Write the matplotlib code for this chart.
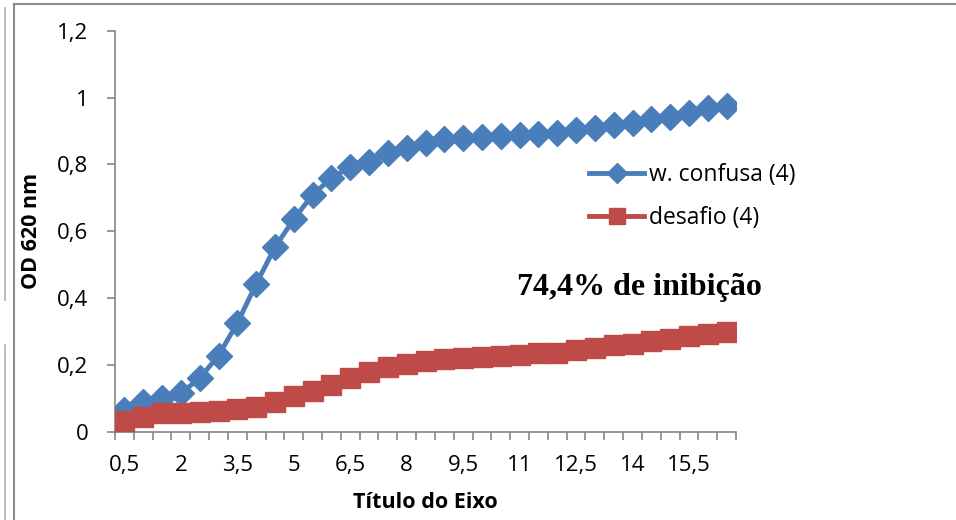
import matplotlib
matplotlib.use("Agg")
import matplotlib.pyplot as plt
from matplotlib.lines import Line2D
import numpy as np

# Categories (time points) and optical density readings
categories = [0.5, 1, 1.5, 2, 2.5, 3, 3.5, 4, 4.5, 5, 5.5, 6, 6.5, 7, 7.5, 8,
              8.5, 9, 9.5, 10, 10.5, 11, 11.5, 12, 12.5, 13, 13.5, 14, 14.5,
              15, 15.5, 16, 16.5]
confusa = [0.065, 0.088, 0.100, 0.115, 0.160, 0.228, 0.325, 0.442, 0.552,
           0.636, 0.709, 0.759, 0.792, 0.807, 0.835, 0.850, 0.865, 0.875,
           0.878, 0.882, 0.885, 0.888, 0.891, 0.895, 0.903, 0.908, 0.918,
           0.925, 0.935, 0.943, 0.955, 0.968, 0.975]
desafio = [0.032, 0.045, 0.055, 0.057, 0.058, 0.062, 0.067, 0.075, 0.088,
           0.106, 0.122, 0.140, 0.160, 0.178, 0.193, 0.203, 0.212, 0.218,
           0.222, 0.224, 0.227, 0.230, 0.235, 0.237, 0.243, 0.250, 0.258,
           0.263, 0.270, 0.278, 0.285, 0.293, 0.298]
y_ticks = [0, 0.2, 0.4, 0.6, 0.8, 1.0, 1.2]
y_tick_labels = ["0", "0,2", "0,4", "0,6", "0,8", "1", "1,2"]

plt.rcParams['font.family'] = ['Open Sans', 'DejaVu Sans']

W, H = 956, 520
fig = plt.figure(figsize=(W / 100, H / 100), dpi=100)
ax = fig.add_axes([115 / W, 1 - 431.7 / H, (736 - 115) / W, (431.7 - 30.7) / H])

idx = np.arange(len(categories))
blue = "#4A7EBB"
red = "#BE4B48"
ax.plot(idx, confusa, color=blue, lw=3.5, marker="D", ms=13, mec=blue,
        mfc=blue, label="w. confusa (4)", zorder=3)
ax.plot(idx, desafio, color=red, lw=3.5, marker="s", ms=14.5, mec=red,
        mfc=red, label="desafio (4)", zorder=4)

ax.set_xlim(-0.5, len(categories) - 0.5)
ax.set_ylim(0, 1.2)

axis_gray = "#868686"
for s in ("top", "right"):
    ax.spines[s].set_visible(False)
for s in ("left", "bottom"):
    ax.spines[s].set_color(axis_gray)
    ax.spines[s].set_linewidth(1.2)

ax.set_yticks(y_ticks)
ax.set_yticklabels(y_tick_labels)
ax.tick_params(axis="y", direction="out", length=6, width=1.2, color=axis_gray,
               labelsize=16, pad=13)

# labels every third category, tick marks between categories
lab_idx = idx[::3]
ax.set_xticks(lab_idx)
ax.set_xticklabels([f"{categories[i]:g}".replace(".", ",") for i in lab_idx])
ax.set_xticks(np.arange(-0.5, len(categories)), minor=True)
ax.tick_params(axis="x", which="major", length=0, labelsize=16, pad=17)
ax.tick_params(axis="x", which="minor", direction="out", length=6, width=1.2,
               color=axis_gray)

ax.set_xlabel("Título do Eixo", fontsize=15.5, fontweight="bold", labelpad=11)
ax.set_ylabel("OD 620 nm", fontsize=15.5, fontweight="bold", labelpad=11)

leg = ax.legend(loc="upper left", bbox_to_anchor=(0.749, 0.693), frameon=False,
                fontsize=16.5, handlelength=2.4, handletextpad=0.2,
                labelspacing=0.85, borderaxespad=0, markerscale=0.8)

ax.text(0.845, 0.36, "74,4% de inibição", transform=ax.transAxes,
        ha="center", va="center", fontsize=23, fontweight="bold",
        family="Liberation Serif")

# surrounding frame lines
frame_c = "#8C8C8C"
fig.add_artist(Line2D([13.5 / W, 13.5 / W], [0, 1 - 4 / H], color=frame_c, lw=1.5))
fig.add_artist(Line2D([13.5 / W, 1], [1 - 4 / H, 1 - 4 / H], color=frame_c, lw=1.5))
fig.add_artist(Line2D([4.5 / W, 4.5 / W], [1 - 300 / H, 1 - 8 / H], color="#B0B0B0", lw=1.2))
fig.add_artist(Line2D([4.5 / W, 4.5 / W], [0, 1 - 345 / H], color="#B0B0B0", lw=1.2))

fig.savefig("out.png", dpi=100)
